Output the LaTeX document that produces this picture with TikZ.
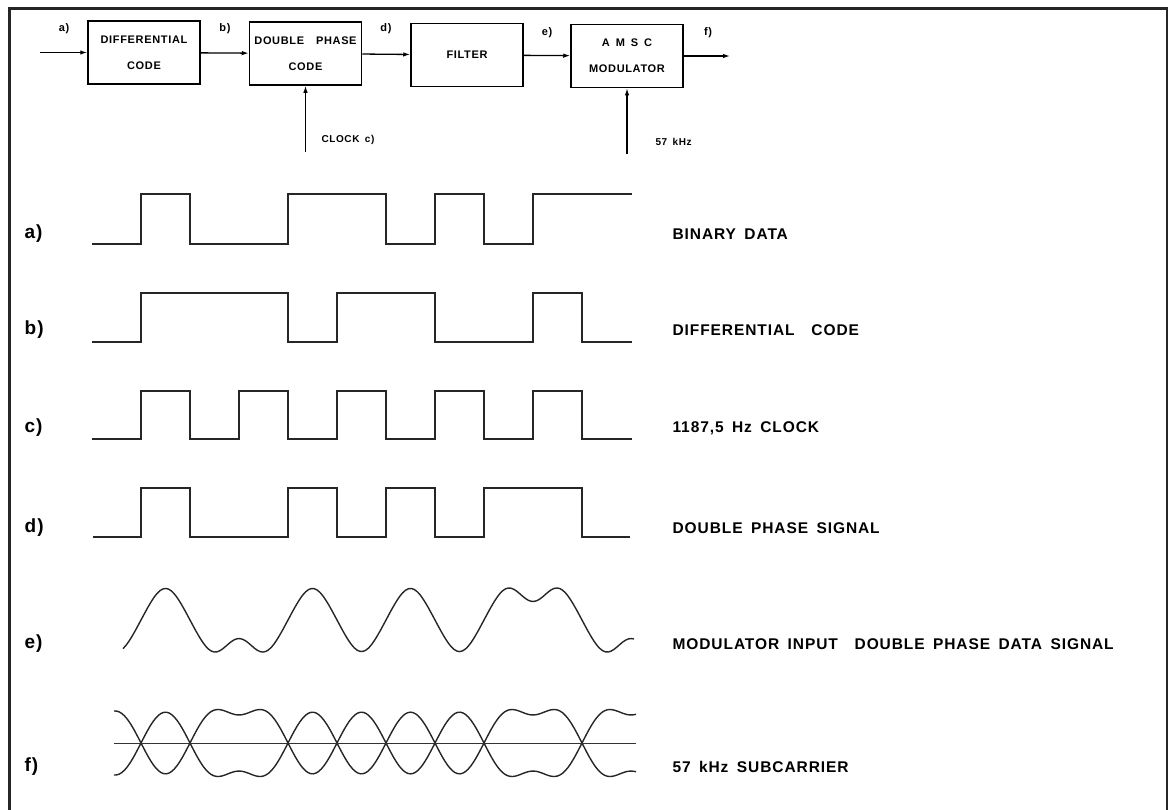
\documentclass[tikz,border=0pt]{standalone}
\usepackage{fontspec}
\setmainfont{Liberation Sans}[LetterSpace=6,WordSpace=1.6]
\usetikzlibrary{arrows.meta}
\tikzset{declare function={
    pu(\dist,\wid)=exp(-min(((\dist)/(\wid))*((\dist)/(\wid)),12));
    bp(\pos,\wid)=-pu(\pos-116.5,\wid)+pu(\pos-165.5,\wid)-pu(\pos-214.5,\wid)-pu(\pos-263.5,\wid)+pu(\pos-312.5,\wid)-pu(\pos-361.5,\wid)+pu(\pos-410.5,\wid)-pu(\pos-459.5,\wid)+pu(\pos-508.5,\wid)+pu(\pos-557.5,\wid)-pu(\pos-606.5,\wid)-pu(\pos-655.5,\wid);
}}
\begin{document}
\begin{tikzpicture}[x=1pt, y=-1pt,
    block/.style={draw, line width=1.5pt, minimum width=112pt, minimum height=63pt, inner sep=0pt, align=center, font=\fontsize{11}{26}\selectfont\bfseries},
    arrow/.style={-{Latex[length=7pt,width=4.5pt]}, line width=1.3pt},
    tag/.style={font=\fontsize{11}{11}\selectfont\bfseries},
    note/.style={anchor=west, font=\fontsize{10}{10}\selectfont\bfseries},
    row/.style={anchor=west, font=\fontsize{19}{19}\selectfont\bfseries},
    desc/.style={anchor=west, font=\fontsize{15.5}{16}\selectfont\bfseries},
    sig/.style={line width=1.4pt, black!85},
    rim/.style={line width=2.6pt, black!85}
]
\useasboundingbox (0,0) rectangle (1172,809);
\draw[rim] (9.5,815) -- (9.5,8.5) -- (1167,8.5) -- (1167,815);

\node[block] (diff) at (144,52.5) {DIFFERENTIAL\\CODE};
\node[block] (dph) at (305.5,53.5) {DOUBLE\ \ PHASE\\CODE};
\node[block] (filt) at (467,55) {FILTER};
\node[block] (amsc) at (627,56) {A\ M\ S\ C\\MODULATOR};
\coordinate (src) at (40,52.5);
\coordinate (out) at (730,56);
\coordinate (clk) at (305.5,152);
\coordinate (osc) at (627,154);
\draw[arrow] (src) -- (diff);
\draw[arrow] (diff) -- (dph);
\draw[arrow] (dph) -- (filt);
\draw[arrow] (filt) -- (amsc);
\draw[arrow] (amsc) -- (out);
\draw[arrow] (clk) -- (dph);
\draw[arrow] (osc) -- (amsc);
\node[tag] (ta) at (64,29) {a)};
\node[tag] (tb) at (225,29) {b)};
\node[tag] (td) at (386,29) {d)};
\node[tag] (te) at (547,33) {e)};
\node[tag] (tf) at (708,33) {f)};
\node[note] (tc) at (318,140) {CLOCK c)};
\node[note] (tk) at (652,142) {57 kHz};

\node[row] (ra) at (21,234) {a)};
\node[row] (rb) at (21,330) {b)};
\node[row] (rc) at (21,428) {c)};
\node[row] (rd) at (21,528) {d)};
\node[row] (re) at (21,644) {e)};
\node[row] (rf) at (21,767) {f)};
\node[desc] (da) at (669,234) {BINARY DATA};
\node[desc] (db) at (669,330) {DIFFERENTIAL\ \ CODE};
\node[desc] (dc) at (669,428) {1187,5 Hz CLOCK};
\node[desc] (dd) at (669,528) {DOUBLE PHASE SIGNAL};
\node[desc] (de) at (669,644) {MODULATOR INPUT\ \ DOUBLE PHASE DATA SIGNAL};
\node[desc] (df) at (669,767) {57 kHz SUBCARRIER};

\draw[sig] (92,244) -| (141,194) -| (190,244) -| (288,194) -| (386,244) -| (435,194) -| (484,244) -| (533,194) -- (632,194);
\draw[sig] (92,342) -| (141,293) -| (288,342) -| (337,293) -| (435,342) -| (533,293) -| (582,342) -- (632,342);
\draw[sig] (92,439) \foreach \k in {141,239,337,435,533} { -| (\k,391) -| (\k+49,439) } -- (632,439);
\draw[sig] (93,537) -| (141,488) -| (190,537) -| (288,488) -| (337,537) -| (386,488) -| (435,537) -| (484,488) -| (582,537) -- (630,537);
\draw[sig] plot[domain=123:634, samples=180, smooth] (\x, {620-32*bp(\x,22)});
\draw[sig] plot[domain=114:636, samples=200, smooth] (\x, {743-33*bp(\x,26.5)});
\draw[sig] plot[domain=114:636, samples=200, smooth] (\x, {743+33*bp(\x,26.5)});
\draw[line width=1pt, black!80] (114,743) -- (636,743);
\end{tikzpicture}
\end{document}
